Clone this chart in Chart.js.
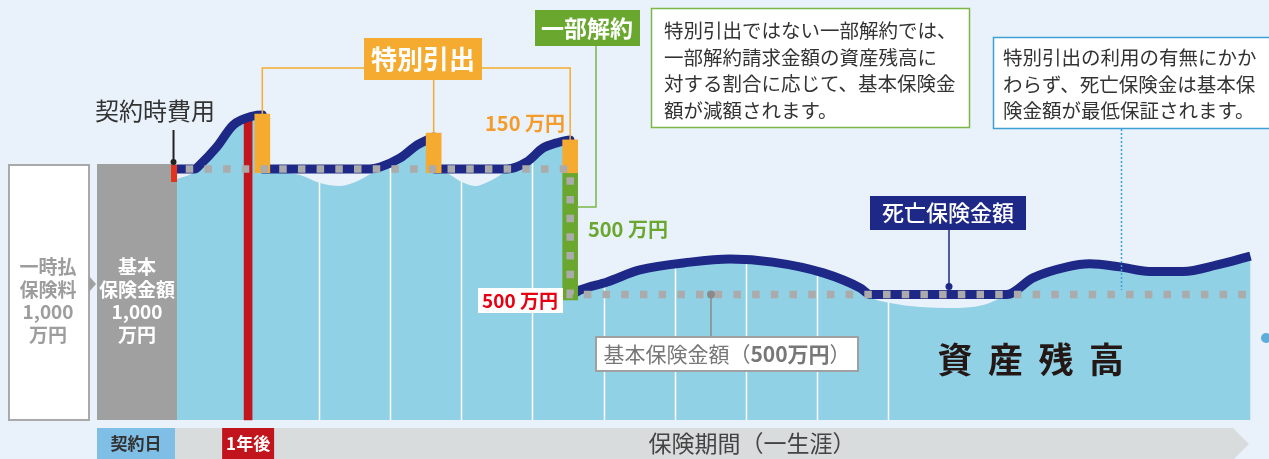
<!DOCTYPE html>
<html lang="ja">
<head>
    <meta charset="UTF-8">
    <meta name="viewport" content="width=device-width, initial-scale=1.0">
    <title>特別引出と一部解約</title>
    <script src="https://cdn.jsdelivr.net/npm/chart.js"></script>
    <style>
        html, body { margin: 0; padding: 0; background: #e9f2fa; }
        #wrap { width: 1269px; height: 459px; position: relative; }
    </style>
</head>
<body>
    <div id="wrap"><canvas id="myChart"></canvas></div>
    <script>
        // 経過年数と死亡保険金額（万円）
        const deathX = [0, 0.25, 0.32, 0.56, 0.79, 1.07, 1.2, 1.21, 2.71, 2.86, 3.14, 3.38, 3.52, 3.61, 3.62,
            4.64, 4.92, 5.15, 5.34, 5.53, 5.55, 5.67, 6.05, 6.51, 7.22, 7.78, 8.38, 9.09, 9.61, 9.75,
            11.67, 12.04, 12.52, 12.84, 13.26, 13.68, 14.15, 14.63, 15.1];
        const deathY = [1000, 1000, 1016, 1088, 1175, 1211, 1215, 1000, 1000, 1008, 1044, 1096, 1116, 1127, 1000,
            1000, 1028, 1084, 1104, 1116, 500, 518, 550, 598, 629, 641, 629, 586, 526, 500,
            500, 566, 610, 622, 610, 592, 592, 618, 653];

        // 資産残高（万円）
        const assetX = [0, 0.25, 0.32, 0.56, 0.79, 1.07, 1.2, 1.21, 1.5, 1.73, 2.01, 2.29, 2.57, 2.81, 3.0,
            3.14, 3.38, 3.52, 3.61, 3.62, 3.77, 3.98, 4.19, 4.43, 4.64, 4.92, 5.15, 5.34, 5.53,
            5.55, 5.75, 6.05, 6.51, 7.22, 7.78, 8.38, 9.09, 9.61, 9.75, 10.03, 10.87, 11.34, 11.58,
            11.8, 12.04, 12.52, 12.84, 13.26, 13.68, 14.15, 14.63, 15.1];
        const assetY = [960, 990, 1016, 1088, 1175, 1211, 1215, 985, 985, 976, 944, 932, 956, 996, 1024,
            1044, 1096, 1116, 1127, 985, 984, 952, 932, 956, 992, 1028, 1084, 1104, 1116,
            478, 515, 550, 598, 629, 641, 629, 586, 526, 490, 466, 446, 458, 486,
            522, 566, 610, 622, 610, 592, 592, 618, 653];

        // 基本保険金額（万円）
        const basicX = [0, 5.53, 5.53, 15.1];
        const basicY = [1000, 1000, 500, 500];

        // 特別引出
        const withdrawX = [1.2, 3.61, 5.53];
        const withdrawTop = [1219, 1143, 1116];
        const withdrawBase = 985;

        // 一部解約
        const surrenderX = 5.53;
        const surrenderFrom = 985;
        const surrenderTo = 478;

        // 1年後
        const oneYearX = 1;
        const oneYearTop = 1195;

        // 一時払保険料・基本保険金額
        const premium = 1000;
        const basicAtStart = 1000;

        const gridYears = [2, 3, 4, 5, 6, 7, 8, 9, 10];

        const pts = (xs, ys) => xs.map((x, i) => ({ x: x, y: ys[i] }));

        const FONT = '"Noto Sans CJK JP", "Noto Sans", sans-serif';
        const NAVY = '#1e2886';
        const ORANGE = '#f5ab2f';
        const GREEN = '#6aa72e';

        function txt(ctx, s, x, y, size, color, weight, align) {
            ctx.font = (weight || 'normal') + ' ' + size + 'px ' + FONT;
            ctx.fillStyle = color;
            ctx.textAlign = align || 'center';
            ctx.textBaseline = 'middle';
            ctx.fillText(s, x, y);
        }
        function rect(ctx, x, y, w, h, fill, stroke, lw) {
            if (fill) { ctx.fillStyle = fill; ctx.fillRect(x, y, w, h); }
            if (stroke) { ctx.strokeStyle = stroke; ctx.lineWidth = lw || 1; ctx.strokeRect(x, y, w, h); }
        }
        function line(ctx, coords, color, lw, dash) {
            ctx.save();
            ctx.strokeStyle = color;
            ctx.lineWidth = lw;
            ctx.setLineDash(dash || []);
            ctx.beginPath();
            coords.forEach((p, i) => i ? ctx.lineTo(p[0], p[1]) : ctx.moveTo(p[0], p[1]));
            ctx.stroke();
            ctx.restore();
        }
        function dot(ctx, x, y, r, color) {
            ctx.fillStyle = color;
            ctx.beginPath();
            ctx.arc(x, y, r, 0, Math.PI * 2);
            ctx.fill();
        }

        const annotate = {
            id: 'annotate',
            afterDatasetDraw(chart, args) {
                // white year lines inside the asset area only
                if (chart.data.datasets[args.index].label !== '資産残高') return;
                const { ctx, scales: { x, y } } = chart;
                ctx.save();
                ctx.globalCompositeOperation = 'source-atop';
                ctx.strokeStyle = '#ffffff';
                ctx.lineWidth = 1.5;
                gridYears.forEach(g => {
                    const px = Math.round(x.getPixelForValue(g)) + 0.5;
                    ctx.beginPath();
                    ctx.moveTo(px, y.getPixelForValue(0));
                    ctx.lineTo(px, 0);
                    ctx.stroke();
                });
                ctx.restore();
            },
            afterDraw(chart) {
                const { ctx, scales: { x, y } } = chart;
                const x0 = x.getPixelForValue(0);
                const yb = y.getPixelForValue(0);
                const yTop = y.getPixelForValue(premium) - 5;

                // left boxes
                rect(ctx, 9, yTop + 1, 80, yb - yTop - 1, '#ffffff', '#a9a9a9', 2);
                ctx.fillStyle = '#a0a0a0';
                ctx.beginPath(); ctx.moveTo(89, 276); ctx.lineTo(96, 284); ctx.lineTo(89, 292); ctx.fill();
                rect(ctx, 97, y.getPixelForValue(basicAtStart) - 5, x0 - 97, yb - y.getPixelForValue(basicAtStart) + 5, '#a0a0a0');
                ['一時払', '保険料', '1,000', '万円'].forEach((s, i) =>
                    txt(ctx, s, 48, 267 + i * 22.5, 19, '#9d9d9d', 'bold'));
                ['基本', '保険金額', '1,000', '万円'].forEach((s, i) =>
                    txt(ctx, s, 137, 267 + i * 22.5, 19, '#ffffff', 'bold'));

                // contract fee marker
                rect(ctx, x0 - 6, y.getPixelForValue(1000) - 4, 6, 17, '#e3321d');
                line(ctx, [[x0 - 3.5, 130], [x0 - 3.5, 162]], '#222', 2);
                dot(ctx, x0 - 3.5, 162, 3, '#222');
                txt(ctx, '契約時費用', 155, 111, 24, '#333');

                // 特別引出 bracket
                const wx = withdrawX.map(v => x.getPixelForValue(v));
                const wt = withdrawTop.map(v => y.getPixelForValue(v));
                line(ctx, [[wx[0], wt[0]], [wx[0], 68], [wx[2], 68], [wx[2], wt[2]]], ORANGE, 1.5);
                line(ctx, [[wx[1], 80], [wx[1], wt[1]]], ORANGE, 1.5);
                rect(ctx, 364, 38, 118, 42, ORANGE);
                txt(ctx, '特別引出', 423, 59, 26, '#ffffff', 'bold');
                txt(ctx, '150 万円', 565, 123, 20, '#f39b2b', 'bold', 'right');

                // 一部解約 bracket
                const sx = x.getPixelForValue(surrenderX);
                line(ctx, [[596, 46], [596, 207], [sx + 7, 207]], '#7ab547', 1.5);
                rect(ctx, 535, 10, 105, 36, GREEN);
                txt(ctx, '一部解約', 587, 28, 23, '#ffffff', 'bold');
                txt(ctx, '500 万円', 588, 229, 20, GREEN, 'bold', 'left');

                // note boxes
                rect(ctx, 651.5, 8.5, 318, 119, '#ffffff', '#7ab648', 1.5);
                ['特別引出ではない一部解約では、', '一部解約請求金額の資産残高に', '対する割合に応じて、基本保険金', '額が減額されます。']
                    .forEach((s, i) => txt(ctx, s, 664, 31 + i * 26.4, 19.5, '#333', 'normal', 'left'));
                rect(ctx, 993.5, 37.5, 290, 91, '#ffffff', '#3d9fd4', 1.5);
                ['特別引出の利用の有無にかか', 'わらず、死亡保険金は基本保', '険金額が最低保証されます。']
                    .forEach((s, i) => txt(ctx, s, 1003, 58 + i * 26.4, 19.5, '#333', 'normal', 'left'));
                line(ctx, [[1121.5, 129], [1121.5, 290]], '#3d9fd4', 1.5, [2, 2]);

                // 死亡保険金額 label
                const y500 = y.getPixelForValue(500);
                line(ctx, [[949, 230], [949, y500 - 8]], NAVY, 1.5);
                dot(ctx, 949, y500 - 8, 3.5, NAVY);
                rect(ctx, 870, 196, 156, 34, NAVY);
                txt(ctx, '死亡保険金額', 948, 213, 22, '#ffffff', '500');

                // 基本保険金額 label
                line(ctx, [[711, 336], [711, y500]], '#8a8a8a', 1.5);
                dot(ctx, 711, y500, 4, '#8a8a8a');
                rect(ctx, 596, 337, 262, 34, '#ffffff', '#a0a0a0', 2);
                const a = '基本保険金額（', c = '）';
                ctx.font = 'bold 21px ' + FONT;
                const bw = ctx.measureText('500万円').width;
                ctx.font = 'normal 21px ' + FONT;
                const aw = ctx.measureText(a).width, cw = ctx.measureText(c).width;
                const lx = 727 - (aw + bw + cw) / 2;
                txt(ctx, a, lx, 354, 21, '#777', 'normal', 'left');
                txt(ctx, '500万円', lx + aw, 354, 21, '#777', 'bold', 'left');
                txt(ctx, c, lx + aw + bw, 354, 21, '#777', 'normal', 'left');

                // red 500 label
                rect(ctx, 478, 288, 85, 25, '#ffffff');
                txt(ctx, '500 万円', 520, 301, 19, '#e60012', 'bold');

                // 資産残高
                ['資', '産', '残', '高'].forEach((s, i) => txt(ctx, s, 955 + i * 50.5, 360, 35, '#231815', 'bold'));

                dot(ctx, 1266, 338, 5, '#5aaedb');

                // timeline
                ctx.fillStyle = '#d9dcdc';
                ctx.beginPath();
                ctx.moveTo(x0 - 2, 428); ctx.lineTo(1233, 428); ctx.lineTo(1249, 444);
                ctx.lineTo(1233, 460); ctx.lineTo(x0 - 2, 460); ctx.closePath(); ctx.fill();
                rect(ctx, 97, 428, x0 - 99, 32, '#7fbfe5');
                txt(ctx, '契約日', 136, 444, 17, '#333', 'bold');
                const ox = x.getPixelForValue(oneYearX);
                rect(ctx, ox - 26, 428, 52, 32, '#c1141c');
                txt(ctx, '1年後', ox, 444, 17, '#ffffff', 'bold');
                txt(ctx, '保険期間（一生涯）', 752, 443, 23, '#444');
            }
        };

        const ctx = document.getElementById('myChart').getContext('2d');
        const myChart = new Chart(ctx, {
            type: 'line',
            data: {
                datasets: [
                    {
                        label: '基本保険金額',
                        data: pts(basicX, basicY),
                        borderColor: '#ababab',
                        borderWidth: 7.5,
                        borderDash: [7.5, 11.2],
                        borderDashOffset: 10,
                        fill: false,
                        pointRadius: 0,
                        order: 0
                    },
                    {
                        type: 'bar',
                        label: '特別引出',
                        data: withdrawX.map((v, i) => ({ x: v, y: [withdrawBase, withdrawTop[i]] })),
                        backgroundColor: ORANGE,
                        barThickness: 15,
                        grouped: false,
                        order: 1
                    },
                    {
                        type: 'bar',
                        label: '一部解約',
                        data: [{ x: surrenderX, y: [surrenderTo, surrenderFrom] }],
                        backgroundColor: GREEN,
                        barThickness: 15,
                        grouped: false,
                        order: 1
                    },
                    {
                        label: '死亡保険金額',
                        data: pts(deathX, deathY),
                        borderColor: NAVY,
                        borderWidth: 9,
                        cubicInterpolationMode: 'monotone',
                        fill: false,
                        pointRadius: 0,
                        order: 2
                    },
                    {
                        type: 'bar',
                        label: '1年後',
                        data: [{ x: oneYearX, y: [0, oneYearTop] }],
                        backgroundColor: '#c1161e',
                        barThickness: 8,
                        grouped: false,
                        order: 3
                    },
                    {
                        label: '資産残高',
                        data: pts(assetX, assetY),
                        borderColor: 'rgba(0,0,0,0)',
                        borderWidth: 0,
                        backgroundColor: '#90d1e6',
                        fill: 'origin',
                        cubicInterpolationMode: 'monotone',
                        pointRadius: 0,
                        order: 4
                    }
                ]
            },
            options: {
                responsive: true,
                maintainAspectRatio: false,
                animation: false,
                layout: { padding: 0 },
                plugins: { legend: { display: false }, tooltip: { enabled: false } },
                scales: {
                    x: { type: 'linear', display: false, offset: false, min: -2.49, max: 15.36 },
                    y: { type: 'linear', display: false, offset: false, min: -155.4, max: 1673.3 }
                }
            },
            plugins: [annotate]
        });
    </script>
</body>
</html>
